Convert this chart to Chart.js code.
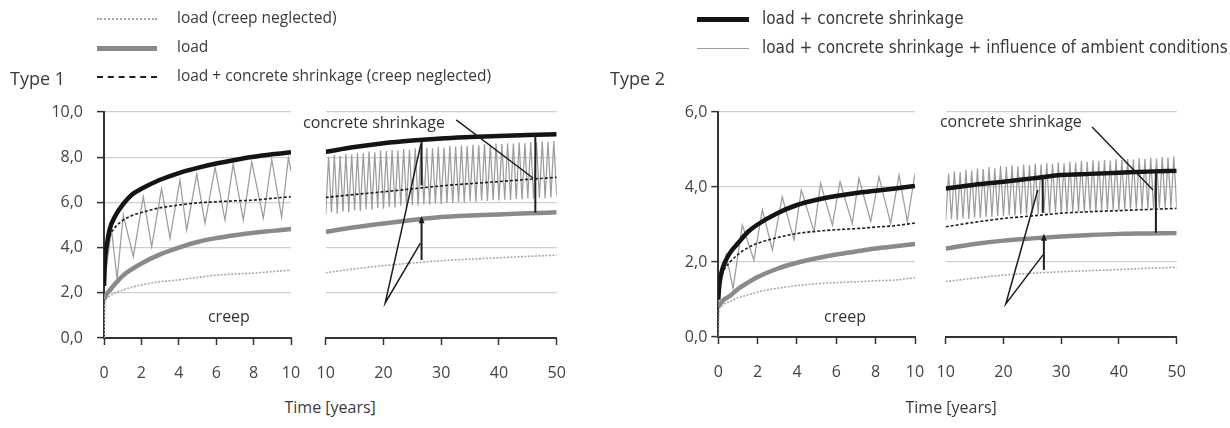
<!DOCTYPE html>
<html>
<head>
<meta charset="utf-8">
<script src="https://cdn.jsdelivr.net/npm/chart.js@4"></script>
<style>
  body { margin:0; width:1230px; height:428px; background:#fff; position:relative; overflow:hidden;
         font-family:'Open Sans', sans-serif; color:#3a3a3a; }
  canvas { position:absolute; }
  .txt { position:absolute; white-space:nowrap; line-height:1; }
  .sw { position:absolute; height:0; }
</style>
</head>
<body>
<script>
// series names (legend)
const seriesNames = [
  'load (creep neglected)',
  'load',
  'load + concrete shrinkage (creep neglected)',
  'load + concrete shrinkage',
  'load + concrete shrinkage + influence of ambient conditions'
];

// 0 - 10 years
const earlyYears = [0, 0.05, 0.15, 0.3, 0.6, 1, 1.5, 2, 3, 4, 5, 6, 7, 8, 9, 10];
const t1EarlyNoCreep   = [0, 1.5, 1.75, 1.85, 2.0, 2.12, 2.25, 2.35, 2.49, 2.57, 2.68, 2.78, 2.83, 2.87, 2.94, 3.0];
const t1EarlyLoad      = [1.7, 1.8, 1.95, 2.1, 2.4, 2.75, 3.05, 3.3, 3.7, 4.0, 4.25, 4.42, 4.55, 4.66, 4.74, 4.82];
const t1EarlyShrNoCreep = [2.3, 3.4, 4.0, 4.5, 4.9, 5.2, 5.42, 5.55, 5.76, 5.88, 5.98, 6.03, 6.07, 6.1, 6.18, 6.25];
const t1EarlyShr       = [2.3, 3.4, 4.1, 4.8, 5.4, 5.9, 6.35, 6.6, 7.0, 7.3, 7.53, 7.72, 7.88, 8.02, 8.13, 8.22];
const t2EarlyNoCreep   = [0, 0.75, 0.82, 0.88, 0.95, 1.05, 1.12, 1.2, 1.3, 1.37, 1.42, 1.45, 1.47, 1.5, 1.52, 1.58];
const t2EarlyLoad      = [0.8, 0.85, 0.92, 1.0, 1.1, 1.28, 1.45, 1.6, 1.82, 1.98, 2.1, 2.2, 2.28, 2.36, 2.42, 2.48];
const t2EarlyShrNoCreep = [1.0, 1.35, 1.6, 1.8, 2.0, 2.2, 2.38, 2.5, 2.65, 2.76, 2.82, 2.86, 2.89, 2.93, 2.97, 3.04];
const t2EarlyShr       = [1.0, 1.4, 1.7, 1.95, 2.25, 2.5, 2.8, 3.0, 3.3, 3.52, 3.66, 3.76, 3.84, 3.9, 3.96, 4.03];

// ambient conditions, 0 - 10 years (peaks and troughs)
const t1AmbEarlyYears = [0, 0.4, 0.7, 1.03, 1.57, 2.1, 2.55, 3.08, 3.53, 4.06, 4.42, 4.96, 5.4, 5.94, 6.47, 6.91, 7.45, 7.9, 8.52, 8.97, 9.5, 9.86, 10];
const t1AmbEarly      = [2.3, 4.8, 2.6, 5.44, 3.6, 6.25, 4.04, 6.62, 4.41, 6.99, 4.78, 7.25, 5.07, 7.55, 5.22, 7.7, 5.22, 7.8, 5.3, 7.9, 5.34, 7.98, 7.4];
const t2AmbEarlyYears = [0, 0.4, 0.75, 1.22, 1.81, 2.24, 2.75, 3.25, 3.85, 4.22, 4.87, 5.2, 5.8, 6.19, 6.81, 7.15, 7.75, 8.17, 8.76, 9.19, 9.61, 10];
const t2AmbEarly      = [0.9, 2.2, 1.3, 2.99, 2.05, 3.39, 2.32, 3.74, 2.59, 3.92, 2.81, 4.1, 2.99, 4.14, 3.03, 4.23, 3.08, 4.27, 3.03, 4.32, 3.08, 4.36];

// 10 - 50 years
const lateYears = [10, 15, 20, 25, 30, 35, 40, 45, 50];
const t1LateNoCreep    = [2.89, 3.06, 3.2, 3.32, 3.42, 3.49, 3.55, 3.61, 3.67];
const t1LateLoad       = [4.7, 4.9, 5.07, 5.22, 5.35, 5.42, 5.47, 5.52, 5.56];
const t1LateShrNoCreep = [6.22, 6.35, 6.47, 6.6, 6.73, 6.83, 6.92, 7.02, 7.11];
const t1LateShr        = [8.24, 8.45, 8.62, 8.74, 8.83, 8.89, 8.94, 8.98, 9.01];
const t2LateNoCreep    = [1.48, 1.57, 1.65, 1.7, 1.74, 1.77, 1.8, 1.83, 1.86];
const t2LateLoad       = [2.36, 2.48, 2.57, 2.63, 2.68, 2.72, 2.75, 2.76, 2.77];
const t2LateShrNoCreep = [2.94, 3.06, 3.16, 3.23, 3.3, 3.34, 3.37, 3.4, 3.43];
const t2LateShr        = [3.96, 4.06, 4.14, 4.23, 4.32, 4.35, 4.38, 4.41, 4.43];

// ambient conditions, 10 - 50 years: yearly troughs and peaks
const ambLowYears  = [10,11,12,13,14,15,16,17,18,19,20,21,22,23,24,25,26,27,28,29,30,31,32,33,34,35,36,37,38,39,40,41,42,43,44,45,46,47,48,49,50];
const ambHighYears = [10.5,11.5,12.5,13.5,14.5,15.5,16.5,17.5,18.5,19.5,20.5,21.5,22.5,23.5,24.5,25.5,26.5,27.5,28.5,29.5,30.5,31.5,32.5,33.5,34.5,35.5,36.5,37.5,38.5,39.5,40.5,41.5,42.5,43.5,44.5,45.5,46.5,47.5,48.5,49.5];
const t1AmbLow  = [5.45,5.55,5.5,5.6,5.58,5.65,5.62,5.7,5.68,5.75,5.72,5.8,5.78,5.85,5.82,5.88,5.86,5.92,5.9,5.95,5.93,5.98,5.96,6.02,6.0,6.05,6.03,6.08,6.06,6.1,6.08,6.12,6.1,6.15,6.13,6.18,6.16,6.2,6.18,6.22,6.25];
const t1AmbHigh = [8.02,8.1,8.05,8.15,8.12,8.2,8.18,8.25,8.22,8.3,8.27,8.32,8.3,8.36,8.33,8.4,8.38,8.42,8.4,8.46,8.43,8.5,8.47,8.52,8.5,8.55,8.53,8.58,8.55,8.6,8.58,8.62,8.6,8.65,8.62,8.67,8.65,8.7,8.68,8.72];
const t2AmbLow  = [3.1,3.14,3.12,3.16,3.15,3.19,3.18,3.21,3.2,3.23,3.22,3.25,3.24,3.27,3.26,3.29,3.28,3.3,3.29,3.32,3.31,3.33,3.32,3.35,3.34,3.36,3.35,3.38,3.37,3.39,3.38,3.4,3.39,3.42,3.41,3.43,3.42,3.45,3.44,3.46,3.47];
const t2AmbHigh = [4.36,4.42,4.4,4.46,4.44,4.5,4.48,4.53,4.5,4.56,4.54,4.58,4.56,4.6,4.58,4.62,4.6,4.64,4.62,4.66,4.63,4.67,4.65,4.69,4.67,4.71,4.69,4.72,4.7,4.74,4.72,4.75,4.73,4.77,4.75,4.78,4.76,4.8,4.78,4.81];

// line styles, same order as seriesNames
const styles = [
  { borderColor: '#a9a9a9', borderWidth: 1.6, borderDash: [2, 1.5], order: 4 },
  { borderColor: '#8a8a8a', borderWidth: 4.5, order: 3 },
  { borderColor: '#1e1e1e', borderWidth: 1.6, borderDash: [3, 2], order: 2 },
  { borderColor: '#141414', borderWidth: 4.5, order: 1 },
  { borderColor: '#9c9c9c', borderWidth: 1.25, order: 5 }
];

const pts = (xs, ys) => xs.map((x, i) => ({ x: x, y: ys[i] }));
function zigzag(lowX, low, highX, high) {
  const out = [];
  lowX.forEach((x, i) => {
    out.push({ x: x, y: low[i] });
    if (i < highX.length) out.push({ x: highX[i], y: high[i] });
  });
  return out;
}

function datasets(lines, amb) {
  return lines.concat([amb]).map((d, i) => Object.assign({
    data: d,
    pointRadius: 0,
    fill: false,
    cubicInterpolationMode: i < 4 ? 'monotone' : 'default',
    tension: 0
  }, styles[i]));
}

function notesPlugin(items) {
  return {
    id: 'notes',
    afterDatasetsDraw(chart) {
      const { ctx, scales: { x, y } } = chart;
      items.forEach(n => {
        ctx.save();
        if (n.text) {
          ctx.font = '16px "Open Sans"';
          ctx.fillStyle = '#333';
          ctx.textAlign = n.align || 'left';
          ctx.textBaseline = 'middle';
          ctx.fillText(n.text, x.getPixelForValue(n.at[0]), y.getPixelForValue(n.at[1]));
        } else {
          ctx.strokeStyle = '#1e1e1e';
          ctx.lineWidth = n.w || 1.5;
          ctx.beginPath();
          n.path.forEach((p, i) => {
            const px = x.getPixelForValue(p[0]), py = y.getPixelForValue(p[1]);
            if (i) ctx.lineTo(px, py); else ctx.moveTo(px, py);
          });
          ctx.stroke();
          if (n.arrow) {
            const px = x.getPixelForValue(n.path[0][0]), py = y.getPixelForValue(n.path[0][1]);
            ctx.fillStyle = '#1e1e1e';
            ctx.beginPath();
            ctx.moveTo(px, py - 2); ctx.lineTo(px - 3, py + 5); ctx.lineTo(px + 3, py + 5);
            ctx.closePath(); ctx.fill();
          }
        }
        ctx.restore();
      });
    }
  };
}

const comma = v => v.toFixed(1).replace('.', ',');

// canvases keep 35px of spare room at top and right so the
// tick-label overflow never pushes the plot area around
function panel(box, cfg) {
  const c = document.createElement('canvas');
  c.width = box.w; c.height = box.h;
  c.style.left = box.x + 'px'; c.style.top = box.y + 'px';
  document.body.appendChild(c);

  const yScale = cfg.axisY ? {
    min: 0, max: cfg.yMax,
    ticks: { stepSize: 2, callback: comma, color: '#444', padding: cfg.yPad, font: { size: 16, family: 'Open Sans' } },
    grid: { color: '#cfcfcf', lineWidth: 1.2, tickLength: 7, tickColor: '#333', tickWidth: 1.5 },
    border: { color: '#333', width: 2 },
    afterFit: s => { s.width = cfg.yWidth; }
  } : {
    min: 0, max: cfg.yMax,
    ticks: { stepSize: 2, display: false },
    grid: { color: '#cfcfcf', lineWidth: 1.2, drawTicks: false },
    border: { display: false },
    afterFit: s => { s.width = 0; }
  };

  new Chart(c, {
    type: 'line',
    data: { datasets: cfg.datasets },
    options: {
      responsive: false,
      animation: false,
      events: [],
      layout: { padding: { left: cfg.padL, right: box.x + box.w - cfg.right, top: cfg.top - box.y, bottom: 0 } },
      plugins: { legend: { display: false }, tooltip: { enabled: false } },
      scales: {
        x: {
          type: 'linear', min: cfg.xMin, max: cfg.xMax,
          ticks: { stepSize: cfg.xStep, color: '#444', padding: 19, maxRotation: 0, autoSkip: false,
                   font: { size: 16, family: 'Open Sans' } },
          grid: { drawOnChartArea: false, tickLength: 7, tickColor: '#333', tickWidth: 1.5 },
          border: { color: '#333', width: 2 },
          afterFit: s => { s.height = box.y + box.h - cfg.bottom; }
        },
        y: yScale
      }
    },
    plugins: [notesPlugin(cfg.notes)]
  });
}

// Type 1
panel({ x: 0, y: 77, w: 326, h: 318 }, {
  axisY: true, yMax: 10, yWidth: 104, yPad: 14, padL: 0, right: 291, top: 112, bottom: 338,
  xMin: 0, xMax: 10, xStep: 2,
  datasets: datasets([
    pts(earlyYears, t1EarlyNoCreep), pts(earlyYears, t1EarlyLoad),
    pts(earlyYears, t1EarlyShrNoCreep), pts(earlyYears, t1EarlyShr)
  ], pts(t1AmbEarlyYears, t1AmbEarly)),
  notes: [{ text: 'creep', at: [6.68, 0.93], align: 'center' }]
});
panel({ x: 290, y: 77, w: 302, h: 318 }, {
  axisY: false, yMax: 10, padL: 35.7, right: 556.7, top: 112, bottom: 338,
  xMin: 10, xMax: 50, xStep: 10,
  datasets: datasets([
    pts(lateYears, t1LateNoCreep), pts(lateYears, t1LateLoad),
    pts(lateYears, t1LateShrNoCreep), pts(lateYears, t1LateShr)
  ], zigzag(ambLowYears, t1AmbLow, ambHighYears, t1AmbHigh)),
  notes: [
    { text: 'concrete shrinkage', at: [6.07, 9.5] },
    { path: [[32.6, 9.65], [45.9, 7.08]] },
    { path: [[46.3, 9.0], [46.3, 5.55]], w: 2 },
    { path: [[26.6, 8.7], [26.6, 6.75]], w: 2 },
    { path: [[26.6, 5.3], [26.6, 3.45]], w: 2, arrow: true },
    { path: [[26.5, 8.6], [20.3, 1.55], [26.4, 4.2]] }
  ]
});

// Type 2
panel({ x: 615, y: 77, w: 335, h: 318 }, {
  axisY: true, yMax: 6, yWidth: 103.3, yPad: 4, padL: 0, right: 915, top: 112, bottom: 337,
  xMin: 0, xMax: 10, xStep: 2,
  datasets: datasets([
    pts(earlyYears, t2EarlyNoCreep), pts(earlyYears, t2EarlyLoad),
    pts(earlyYears, t2EarlyShrNoCreep), pts(earlyYears, t2EarlyShr)
  ], pts(t2AmbEarlyYears, t2AmbEarly)),
  notes: [{ text: 'creep', at: [6.44, 0.53], align: 'center' }]
});
panel({ x: 910, y: 77, w: 302, h: 318 }, {
  axisY: false, yMax: 6, padL: 35.7, right: 1176.7, top: 112, bottom: 337,
  xMin: 10, xMax: 50, xStep: 10,
  datasets: datasets([
    pts(lateYears, t2LateNoCreep), pts(lateYears, t2LateLoad),
    pts(lateYears, t2LateShrNoCreep), pts(lateYears, t2LateShr)
  ], zigzag(ambLowYears, t2AmbLow, ambHighYears, t2AmbHigh)),
  notes: [
    { text: 'concrete shrinkage', at: [9.0, 5.71] },
    { path: [[35.35, 5.6], [45.9, 3.92]] },
    { path: [[46.4, 4.41], [46.4, 2.78]], w: 2 },
    { path: [[26.8, 4.29], [26.8, 3.31]], w: 2 },
    { path: [[27.0, 2.7], [27.0, 1.79]], w: 2, arrow: true },
    { path: [[25.95, 3.92], [20.4, 0.88], [26.85, 2.19]] }
  ]
});

// texts and legends
function addText(str, x, y, size, extra) {
  const d = document.createElement('div');
  d.className = 'txt';
  d.textContent = str;
  d.style.left = x + 'px';
  d.style.top = (y - size / 2) + 'px';
  d.style.fontSize = size + 'px';
  if (extra) Object.assign(d.style, extra);
  document.body.appendChild(d);
  return d;
}
function addSwatch(i, x, w, y) {
  const s = styles[i];
  const d = document.createElement('div');
  d.className = 'sw';
  d.style.left = x + 'px';
  d.style.width = w + 'px';
  const bw = Math.max(1, Math.round(s.borderWidth));
  d.style.top = (y - bw / 2) + 'px';
  d.style.borderTop = bw + 'px ' + (s.borderDash ? (s.borderDash[0] > 2 ? 'dashed' : 'dotted') : 'solid') + ' ' + s.borderColor;
  document.body.appendChild(d);
}

addText('Type 1', 10, 78, 18);
addText('Type 2', 610, 78, 18);
[0, 1, 2].forEach((i, r) => {
  addSwatch(i, 97, 60, 19 + r * 29);
  addText(seriesNames[i], 177, 18 + r * 29, 15.5);
});
[3, 4].forEach((i, r) => {
  addSwatch(i, 697, 52, 19 + r * 29);
  addText(seriesNames[i], 762, 18 + r * 29, 17, { fontFamily: '"Liberation Sans Narrow", "DejaVu Sans Condensed", sans-serif' });
});

const t1 = addText('Time [years]', 0, 407, 16);
t1.style.left = (330 - t1.offsetWidth / 2) + 'px';
const t2 = addText('Time [years]', 0, 407, 16);
t2.style.left = (951 - t2.offsetWidth / 2) + 'px';
</script>
</body>
</html>
